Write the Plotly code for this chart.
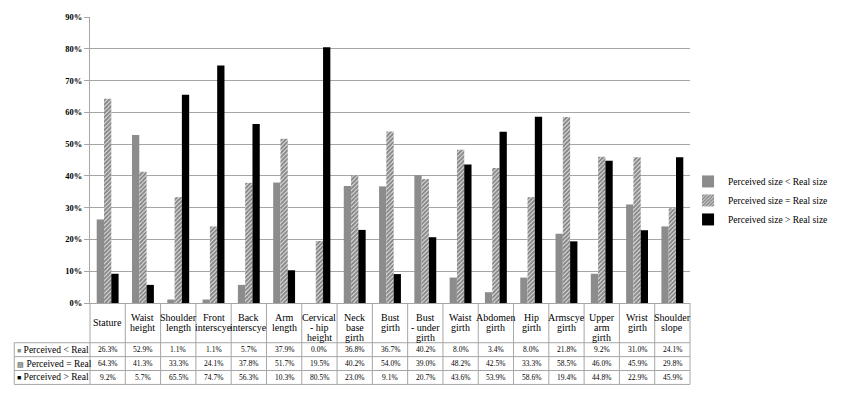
import plotly.graph_objects as go

categories = ["Stature", "Waist<br>height", "Shoulder<br>length", "Front<br>interscye",
              "Back<br>interscye", "Arm<br>length", "Cervical<br>- hip<br>height",
              "Neck<br>base<br>girth", "Bust<br>girth", "Bust<br>- under<br>girth",
              "Waist<br>girth", "Abdomen<br>girth", "Hip<br>girth", "Armscye<br>girth",
              "Upper<br>arm<br>girth", "Wrist<br>girth", "Shoulder<br>slope"]
less_than = [26.3, 52.9, 1.1, 1.1, 5.7, 37.9, 0.0, 36.8, 36.7, 40.2, 8.0, 3.4, 8.0, 21.8, 9.2, 31.0, 24.1]
equal_to = [64.3, 41.3, 33.3, 24.1, 37.8, 51.7, 19.5, 40.2, 54.0, 39.0, 48.2, 42.5, 33.3, 58.5, 46.0, 45.9, 29.8]
greater_than = [9.2, 5.7, 65.5, 74.7, 56.3, 10.3, 80.5, 23.0, 9.1, 20.7, 43.6, 53.9, 58.6, 19.4, 44.8, 22.9, 45.9]
series_names = ["Perceived size &lt; Real size", "Perceived size = Real size", "Perceived size &gt; Real size"]
row_labels = ["Perceived &lt; Real", "Perceived = Real", "Perceived &gt; Real"]
row_markers = ["■", "▨", "■"]
y_ticks = [0, 10, 20, 30, 40, 50, 60, 70, 80, 90]

n = len(categories)

W_FIG, H_FIG = 845, 393
L, R, T, B = 90, 708, 15, 303
PW, PH = R - L, B - T

def px(p):
    return (p - L) / PW

def py(p):
    return (B - p) / PH

SERIF = "Liberation Serif"
GRAY = "#8c8c8c"
LINE = "#a6a6a6"

keys = [f"c{i}" for i in range(n)]

fig = go.Figure()
fig.add_trace(go.Bar(x=keys, y=less_than, name=series_names[0],
                     marker=dict(color=GRAY, line=dict(width=0))))
fig.add_trace(go.Bar(x=keys, y=equal_to, name=series_names[1],
                     marker=dict(color="white", line=dict(width=0),
                                 pattern=dict(shape="/", size=3, solidity=0.75,
                                              fgcolor="#111", bgcolor="white",
                                              fillmode="overlay"))))
fig.add_trace(go.Bar(x=keys, y=greater_than, name=series_names[2],
                     marker=dict(color="black", line=dict(width=0))))

shapes = []
annotations = []

row_lines = [343, 357, 371, 385]
for yy in row_lines:
    shapes.append(dict(type="line", xref="paper", yref="paper", x0=px(12), x1=1,
                       y0=py(yy), y1=py(yy), line=dict(color=LINE, width=1)))
shapes.append(dict(type="line", xref="paper", yref="paper", x0=px(12), x1=px(12),
                   y0=py(row_lines[0]), y1=py(row_lines[-1]), line=dict(color=LINE, width=1)))
for k in range(n + 1):
    shapes.append(dict(type="line", xref="paper", yref="paper", x0=k / n, x1=k / n,
                       y0=py(B), y1=py(row_lines[-1]), line=dict(color=LINE, width=1)))

# header cells: one annotation per text line for tight line spacing
for i, c in enumerate(categories):
    lines = c.split("<br>")
    start = max(318, 323 - (len(lines) - 1) * 5)
    for j, ln in enumerate(lines):
        annotations.append(dict(x=keys[i], xref="x", y=py(start + j * 10), yref="paper",
                                text=ln, showarrow=False, yanchor="middle", xanchor="center",
                                font=dict(family=SERIF, size=10, color="black")))

rows = [less_than, equal_to, greater_than]
mcolors = [GRAY, "#333", "black"]
for r, vals in enumerate(rows):
    yc = (row_lines[r] + row_lines[r + 1]) / 2
    annotations.append(dict(x=px(13), xref="paper", y=py(yc), yref="paper",
                            text=f"<span style='color:{mcolors[r]};font-size:7px'>{row_markers[r]}</span> {row_labels[r]}",
                            showarrow=False, xanchor="left", yanchor="middle",
                            font=dict(family=SERIF, size=9.5, color="black")))
    for i, v in enumerate(vals):
        annotations.append(dict(x=keys[i], xref="x", y=py(yc), yref="paper",
                                text=f"{v:.1f}%", showarrow=False,
                                xanchor="center", yanchor="middle",
                                font=dict(family=SERIF, size=7.5, color="black")))

fig.update_layout(
    width=W_FIG, height=H_FIG,
    margin=dict(l=L, r=W_FIG - R, t=T, b=H_FIG - B, pad=0),
    paper_bgcolor="white", plot_bgcolor="white",
    barmode="group", bargap=0.38, bargroupgap=0,
    showlegend=True,
    legend=dict(x=px(706), y=py(166), xanchor="left", yanchor="top",
                font=dict(family=SERIF, size=9.5, color="black"),
                bgcolor="rgba(0,0,0,0)", tracegroupgap=0),
    xaxis=dict(range=[-0.5, n - 0.5], showticklabels=False, showline=True,
               linecolor=LINE, linewidth=1, ticks="", showgrid=False, fixedrange=True),
    yaxis=dict(range=[0, 90], tickvals=y_ticks, ticktext=[f"<b>{t}%</b>" for t in y_ticks],
               showline=True, linecolor=LINE, linewidth=1, ticks="outside", ticklen=5,
               tickcolor=LINE, showgrid=True, gridcolor=LINE, gridwidth=1,
               tickfont=dict(family=SERIF, size=8.5, color="black"), zeroline=False),
    shapes=shapes, annotations=annotations,
)
fig.write_html("out.html", config={"displayModeBar": False},
               post_script="document.body.style.margin='0';document.body.style.overflow='hidden';")
